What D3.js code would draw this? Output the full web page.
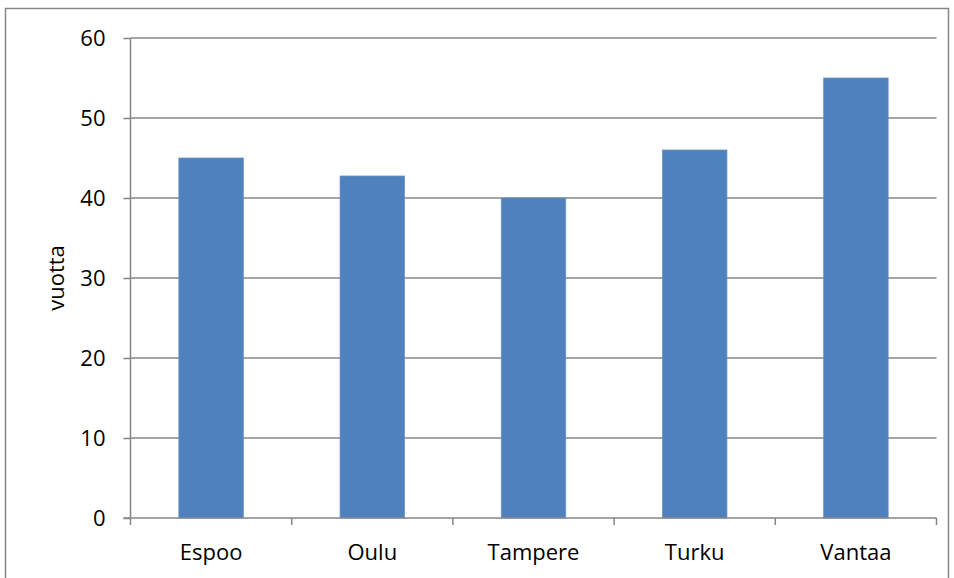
<!DOCTYPE html>
<html>
<head>
<meta charset="utf-8">
<script src="https://cdn.jsdelivr.net/npm/d3@7"></script>
<style>
  html, body { margin: 0; padding: 0; background: #fff; }
  svg { display: block; }
</style>
</head>
<body>
<svg id="chart" width="954" height="578"></svg>
<script>
// Kaupungit ja niiden arvot (vuotta)
const cities = ["Espoo", "Oulu", "Tampere", "Turku", "Vantaa"];
const years = [45, 42.75, 40, 46, 55];
const yTicks = [0, 10, 20, 30, 40, 50, 60];
const yTitle = "vuotta";

const svg = d3.select("#chart");
const plotL = 130.5, plotR = 936.5, plotT = 38, plotB = 518;
const font = "'Open Sans', 'Noto Sans', sans-serif";
const fontSize = 22;

// outer frame
svg.append("rect")
  .attr("x", 5.5).attr("y", 8.5)
  .attr("width", 943).attr("height", 600)
  .attr("fill", "#fff").attr("stroke", "#868686").attr("stroke-width", 1.5);

const x = d3.scaleBand().domain(cities).range([plotL, plotR]).padding(0);
const y = d3.scaleLinear().domain([0, 60]).range([plotB, plotT]);

// horizontal gridlines
svg.append("g").selectAll("line").data(yTicks.filter(d => d > 0)).join("line")
  .attr("x1", plotL).attr("x2", plotR)
  .attr("y1", d => y(d)).attr("y2", d => y(d))
  .attr("stroke", "#868686").attr("stroke-width", 1.5);

// bars
const barW = x.bandwidth() * 0.4;
svg.append("g").selectAll("rect").data(cities).join("rect")
  .attr("x", (d) => x(d) + (x.bandwidth() - barW) / 2)
  .attr("y", (d, i) => y(years[i]))
  .attr("width", barW)
  .attr("height", (d, i) => y(0) - y(years[i]))
  .attr("fill", "#4f81bd")
  .attr("stroke", "#6a93c8").attr("stroke-width", 0.8);

// y axis
const yAxis = svg.append("g")
  .attr("transform", `translate(${plotL},0)`)
  .call(d3.axisLeft(y).tickValues(yTicks).tickSize(7).tickPadding(18).tickFormat(d3.format("d")));
yAxis.attr("font-family", font).attr("font-size", fontSize);
yAxis.select(".domain").attr("stroke", "#868686").attr("stroke-width", 1.5)
  .attr("d", `M0,${plotT}V${plotB}`);
yAxis.selectAll(".tick line").attr("stroke", "#868686").attr("stroke-width", 1.5);
yAxis.selectAll(".tick text").attr("fill", "#000");

// x axis
const xTicks = d3.range(cities.length + 1).map(i => plotL + i * x.step());
const xg = svg.append("g");
xg.append("line")
  .attr("x1", plotL - 7).attr("x2", plotR)
  .attr("y1", plotB).attr("y2", plotB)
  .attr("stroke", "#868686").attr("stroke-width", 1.5);
xg.selectAll("line.t").data(xTicks).join("line").attr("class", "t")
  .attr("x1", d => d).attr("x2", d => d)
  .attr("y1", plotB).attr("y2", plotB + 7)
  .attr("stroke", "#868686").attr("stroke-width", 1.5);
xg.selectAll("text").data(cities).join("text")
  .attr("x", d => x(d) + x.bandwidth() / 2)
  .attr("y", 560)
  .attr("text-anchor", "middle")
  .attr("font-family", font).attr("font-size", fontSize).attr("fill", "#000")
  .text(d => d);

// y axis title
svg.append("text")
  .attr("transform", `translate(64,${(plotT + plotB) / 2}) rotate(-90)`)
  .attr("text-anchor", "middle")
  .attr("font-family", font).attr("font-size", fontSize).attr("fill", "#000")
  .text(yTitle);
</script>
</body>
</html>
